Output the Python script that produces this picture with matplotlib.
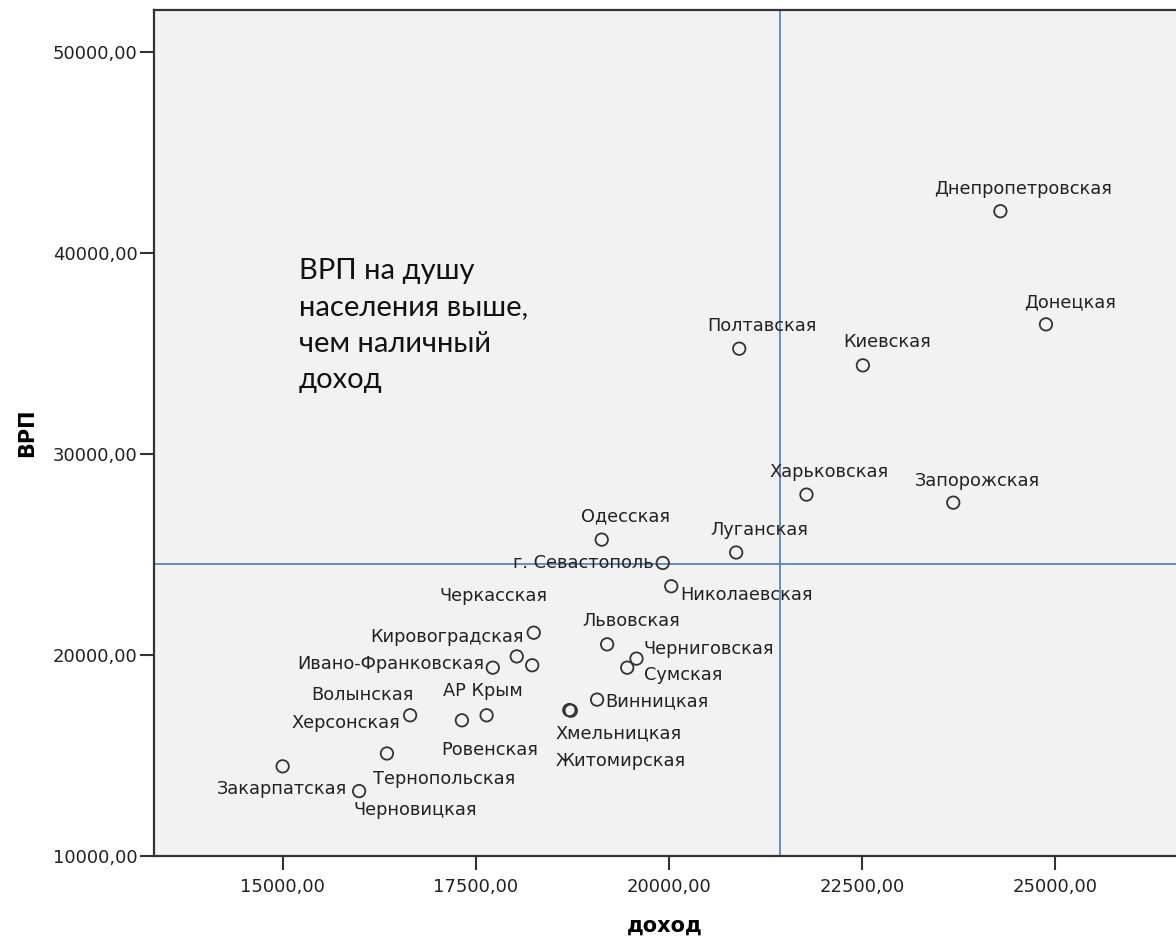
import matplotlib
matplotlib.use("Agg")
import matplotlib.pyplot as plt
from matplotlib.ticker import FuncFormatter

# regions: income (доход) vs GRP per capita (ВРП)
regions = ["Днепропетровская", "Донецкая", "Полтавская", "Киевская", "Харьковская",
           "Запорожская", "Одесская", "Луганская", "г. Севастополь", "Николаевская",
           "Черкасская", "Львовская", "Кировоградская", "Черниговская", "Ивано-Франковская",
           "Сумская", "Волынская", "АР Крым", "Винницкая", "Херсонская",
           "Хмельницкая", "Ровенская", "Житомирская", "Тернопольская", "Закарпатская",
           "Черновицкая"]
income = [24290, 24880, 20910, 22510, 21780,
          23680, 19130, 20870, 19920, 20030,
          18230, 19200, 18250, 19580, 17720,
          19460, 18030, 17640, 19070, 16650,
          18710, 17320, 18730, 16350, 15000,
          15990]
grp = [42080, 36450, 35240, 34410, 27980,
       27580, 25740, 25100, 24580, 23420,
       19490, 20530, 21110, 19820, 19370,
       19370, 19930, 17000, 17780, 17000,
       17260, 16750, 17230, 15100, 14460,
       13230]

income_ref = 21440
grp_ref = 24530
x_ticks = [15000, 17500, 20000, 22500, 25000]
y_ticks = [10000, 20000, 30000, 40000, 50000]

# label placement, pixel offsets from the point (dx, dy, ha)
label_pos = [(23, 22, "center"), (24, 22, "center"), (23, 23, "center"), (24, 23, "center"), (23, 23, "center"),
             (24, 22, "center"), (24, 23, "center"), (23, 22, "center"), (-9, 0, "right"), (9, -9, "left"),
             (-39, 69, "center"), (24, 23, "center"), (-10, -4, "right"), (7, 10, "left"), (-9, 4, "right"),
             (17, -7, "left"), (-154, -39, "center"), (-4, 24, "center"), (8, -2, "left"), (-10, -8, "right"),
             (49, -23, "center"), (28, -30, "center"), (50, -50, "center"), (57, -26, "center"), (64, -23, "right"),
             (56, -19, "center")]

plt.rcParams['font.family'] = ['DejaVu Sans']

fig = plt.figure(figsize=(11.76, 9.46), dpi=100)
ax = fig.add_axes([154 / 1176, 90 / 946, 1 - 154 / 1176, 846 / 946])
ax.set_facecolor("#f2f2f2")

ax.axvline(income_ref, color="#4a7ebb", lw=1.2, zorder=1)
ax.axhline(grp_ref, color="#4a7ebb", lw=1.2, zorder=1)

ax.scatter(income, grp, s=80, facecolors="none", edgecolors="#333333", linewidths=1.3, zorder=3)

for name, x, y, (dx, dy, ha) in zip(regions, income, grp, label_pos):
    ax.annotate(name, (x, y), xytext=(dx, dy), textcoords="offset pixels",
                ha=ha, va="center", fontsize=12.8, color="#222222", zorder=4)

ax.text(0.142, 0.707, "ВРП на душу\nнаселения выше,\nчем наличный\nдоход",
        transform=ax.transAxes, ha="left", va="top", fontsize=21,
        family=["Lato", "DejaVu Sans"], linespacing=1.5, color="#111111")

ax.set_xlim(13335, 26563)
ax.set_ylim(10000, 52090)
ax.set_xticks(x_ticks)
ax.set_yticks(y_ticks)
fmt = FuncFormatter(lambda v, p: f"{v:.2f}".replace(".", ","))
ax.xaxis.set_major_formatter(fmt)
ax.yaxis.set_major_formatter(fmt)
ax.tick_params(direction="out", length=10, width=1.5, color="#333333",
               labelsize=13, labelcolor="#222222")
ax.tick_params(axis="x", pad=6)
ax.tick_params(axis="y", pad=2)

for side in ["left", "bottom", "top"]:
    ax.spines[side].set_color("#333333")
    ax.spines[side].set_linewidth(1.6)
ax.spines["right"].set_visible(False)

ax.set_xlabel("доход", fontsize=15, fontweight="bold", labelpad=14)
ax.set_ylabel("ВРП", fontsize=15, fontweight="bold", labelpad=11)

fig.savefig("out.png", dpi=100)
